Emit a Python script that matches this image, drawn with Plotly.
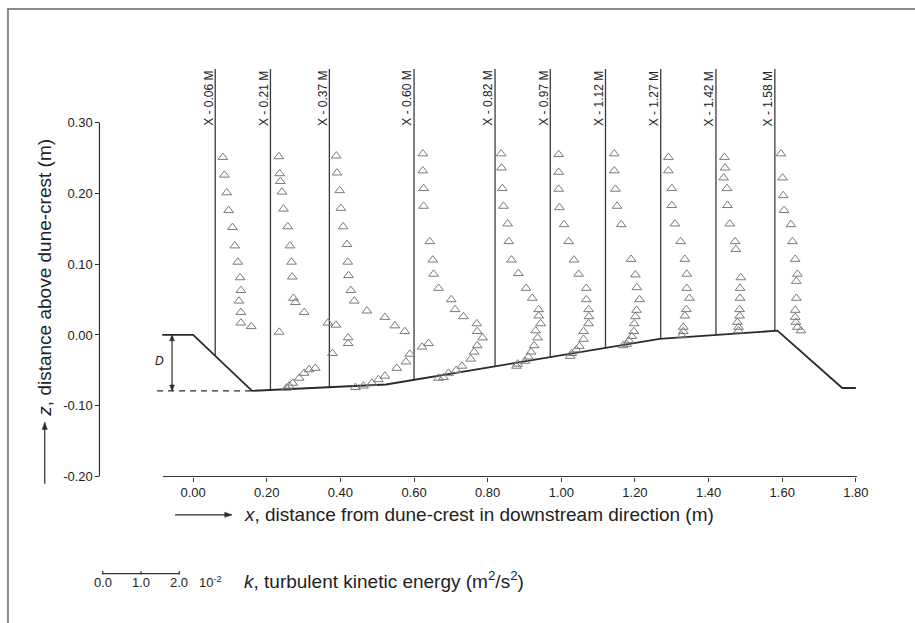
import numpy as np
import plotly.graph_objects as go

W, H = 915, 623
FONT = "Liberation Sans, Arial, sans-serif"
INK = "#222222"
LINE = "#2a2a2a"

# ---- dune bed profile (x, z in m) ----
BED_X = [-0.084, 0.0, 0.160, 0.524, 1.267, 1.587, 1.763, 1.80]
BED_Z = [0.0, 0.0, -0.079, -0.070, -0.0056, 0.006, -0.075, -0.075]
DUNE_HEIGHT = 0.079

# ---- measuring stations ----
STATIONS = [0.06, 0.21, 0.37, 0.60, 0.82, 0.97, 1.12, 1.27, 1.42, 1.58]
STATION_LABELS = ["X - 0.06 M", "X - 0.21 M", "X - 0.37 M", "X - 0.60 M", "X - 0.82 M",
                  "X - 0.97 M", "X - 1.12 M", "X - 1.27 M", "X - 1.42 M", "X - 1.58 M"]
STATION_TOP = 0.3756

# ---- turbulent kinetic energy profiles: k (10^-2 m^2/s^2) vs z (m) ----
K_006 = [0.20, 0.24, 0.30, 0.35, 0.45, 0.51, 0.59, 0.65, 0.67, 0.62, 0.67, 0.67, 0.94, 1.67]
Z_006 = [0.251, 0.226, 0.201, 0.176, 0.152, 0.126, 0.103, 0.081, 0.063, 0.048, 0.032, 0.017, 0.012, 0.004]

K_021 = [0.22, 0.24, 0.26, 0.30, 0.34, 0.45, 0.51, 0.55, 0.57, 0.60, 0.65, 0.88,
         1.50, 1.71, 2.03, 2.03, 1.62, 1.17, 1.01, 0.88, 0.75, 0.58, 0.49, 0.42]
Z_021 = [0.252, 0.228, 0.217, 0.202, 0.178, 0.153, 0.126, 0.103, 0.082, 0.052, 0.046, 0.032,
         0.017, 0.014, -0.004, -0.012, -0.026, -0.047, -0.049, -0.054, -0.061, -0.068, -0.072, -0.075]

K_037 = [0.18, 0.20, 0.27, 0.30, 0.36, 0.46, 0.48, 0.50, 0.56, 0.65, 0.98,
         1.45, 1.71, 1.97, 2.10, 2.00, 1.76, 1.45, 1.28, 1.11, 0.89, 0.68]
Z_037 = [0.253, 0.229, 0.204, 0.179, 0.153, 0.128, 0.103, 0.084, 0.063, 0.048, 0.034,
         0.025, 0.013, 0.005, -0.027, -0.038, -0.047, -0.058, -0.063, -0.068, -0.072, -0.074]

K_060 = [0.23, 0.23, 0.25, 0.25, 0.41, 0.49, 0.51, 0.64, 0.97, 1.07, 1.29, 1.64, 1.65, 1.79,
         1.65, 1.57, 1.48, 1.25, 1.10, 0.90, 0.77, 0.64, 0.21, 0.38]
Z_060 = [0.256, 0.232, 0.207, 0.182, 0.132, 0.106, 0.086, 0.066, 0.050, 0.036, 0.026, 0.016, 0.005, -0.004,
         -0.015, -0.024, -0.034, -0.044, -0.050, -0.054, -0.060, -0.061, -0.017, -0.012]

K_082 = [0.16, 0.17, 0.19, 0.22, 0.33, 0.36, 0.43, 0.61, 0.81, 0.97, 1.14, 1.14, 1.19,
         1.06, 1.11, 1.02, 0.94, 0.87, 0.78, 0.59, 0.56]
Z_082 = [0.256, 0.236, 0.207, 0.182, 0.157, 0.132, 0.106, 0.087, 0.066, 0.052, 0.036, 0.027, 0.016,
         0.006, -0.004, -0.015, -0.024, -0.031, -0.037, -0.041, -0.044]

K_097 = [0.22, 0.22, 0.22, 0.24, 0.36, 0.48, 0.62, 0.74, 0.94, 0.94, 1.00, 1.01, 1.00,
         0.87, 0.87, 0.76, 0.68, 0.56, 0.52]
Z_097 = [0.255, 0.230, 0.206, 0.180, 0.156, 0.132, 0.106, 0.086, 0.066, 0.050, 0.036, 0.026, 0.016,
         0.005, -0.006, -0.016, -0.021, -0.026, -0.030]

K_112 = [0.23, 0.23, 0.26, 0.30, 0.41, 0.67, 0.78, 0.82, 0.89, 0.81, 0.78, 0.75, 0.74,
         0.69, 0.61, 0.55, 0.46]
Z_112 = [0.256, 0.232, 0.206, 0.182, 0.156, 0.107, 0.085, 0.067, 0.050, 0.035, 0.026, 0.016, 0.005,
         -0.002, -0.008, -0.013, -0.015]

K_127 = [0.20, 0.20, 0.29, 0.29, 0.37, 0.52, 0.63, 0.68, 0.68, 0.75, 0.67, 0.63, 0.59, 0.59, 0.55]
Z_127 = [0.251, 0.232, 0.207, 0.183, 0.157, 0.132, 0.107, 0.086, 0.066, 0.052, 0.036, 0.027, 0.011, 0.005, -0.001]

K_142 = [0.22, 0.24, 0.20, 0.29, 0.30, 0.36, 0.50, 0.52, 0.65, 0.63, 0.63, 0.62, 0.62, 0.56, 0.59, 0.59]
Z_142 = [0.251, 0.236, 0.222, 0.207, 0.183, 0.157, 0.132, 0.121, 0.081, 0.066, 0.052, 0.036, 0.027, 0.018, 0.011, 0.006]

K_158 = [0.16, 0.20, 0.22, 0.24, 0.42, 0.46, 0.53, 0.59, 0.56, 0.56, 0.53, 0.53, 0.55, 0.59, 0.68]
Z_158 = [0.256, 0.222, 0.197, 0.176, 0.156, 0.132, 0.107, 0.086, 0.076, 0.052, 0.035, 0.025, 0.018, 0.011, 0.006]

PROFILES_K = [K_006, K_021, K_037, K_060, K_082, K_097, K_112, K_127, K_142, K_158]
PROFILES_Z = [Z_006, Z_021, Z_037, Z_060, Z_082, Z_097, Z_112, Z_127, Z_142, Z_158]

# horizontal plotting scale: metres of x per 10^-2 m^2/s^2 of k
K_TO_X = 0.104
SCALE_TICKS = [0.0, 1.0, 2.0]
SCALE_LABELS = ["0.0", "1.0", "2.0"]

X_TICKS = [0.0, 0.2, 0.4, 0.6, 0.8, 1.0, 1.2, 1.4, 1.6, 1.8]
X_TICKTEXT = ["0.00", "0.20", "0.40", "0.60", "0.80", "1.00", "1.20", "1.40", "1.60", "1.80"]
Z_TICKS = [-0.2, -0.1, 0.0, 0.1, 0.2, 0.3]
Z_TICKTEXT = ["-0.20", "-0.10", "0.00", "0.10", "0.20", "0.30"]

# ---- axes geometry (pixels) ----
X_RANGE = [-0.12, 1.82]
Z_RANGE = [-0.20, 0.39]
PX_X0, PX_PER_M = 194.2, 370.2          # pixel of x = 0, pixels per metre
PY_Z0, PY_PER_M = 339.3, 717.0          # pixel of z = 0, pixels per metre
YAXIS_PX = 100


def px(x):
    return PX_X0 + x * PX_PER_M


def py(z):
    return PY_Z0 - z * PY_PER_M


def paper_x(p):
    return p / W


def paper_y(p):
    return (H - p) / H


def arrow_shapes(x0, y0, x1, y1, head=7.0, half=2.6, width=1.2, both=False):
    """Line from (x0,y0) to (x1,y1) in pixels with a filled head at (x1,y1)."""
    out = [dict(type="line", xref="paper", yref="paper",
                x0=paper_x(x0), y0=paper_y(y0), x1=paper_x(x1), y1=paper_y(y1),
                line=dict(color=LINE, width=width))]
    ends = [((x0, y0), (x1, y1))]
    if both:
        ends.append(((x1, y1), (x0, y0)))
    for (ax, ay), (bx, by) in ends:
        dx, dy = bx - ax, by - ay
        n = (dx * dx + dy * dy) ** 0.5
        ux, uy = dx / n, dy / n
        bxp, byp = bx - ux * head, by - uy * head
        p1 = (bxp - uy * half, byp + ux * half)
        p2 = (bxp + uy * half, byp - ux * half)
        path = "M {:.5f},{:.5f} L {:.5f},{:.5f} L {:.5f},{:.5f} Z".format(
            paper_x(bx), paper_y(by), paper_x(p1[0]), paper_y(p1[1]), paper_x(p2[0]), paper_y(p2[1]))
        out.append(dict(type="path", xref="paper", yref="paper", path=path,
                        fillcolor=LINE, line=dict(color=LINE, width=0.5)))
    return out


x_domain = [paper_x(px(X_RANGE[0])), paper_x(px(X_RANGE[1]))]
y_domain = [paper_y(py(Z_RANGE[0])), paper_y(py(Z_RANGE[1]))]

fig = go.Figure()

# station verticals, from the bed up
sx, sz = [], []
for s in STATIONS:
    sx += [s, s, None]
    sz += [float(np.interp(s, BED_X, BED_Z)), STATION_TOP, None]
fig.add_trace(go.Scatter(x=sx, y=sz, mode="lines",
                         line=dict(color="#3a3a3a", width=1.3), hoverinfo="skip"))

# bed
fig.add_trace(go.Scatter(x=BED_X, y=BED_Z, mode="lines",
                         line=dict(color=LINE, width=1.8), hoverinfo="skip"))

# trough level (dashed)
fig.add_trace(go.Scatter(x=[-0.098, BED_X[2]], y=[-DUNE_HEIGHT, -DUNE_HEIGHT], mode="lines",
                         line=dict(color=LINE, width=1.3, dash="6px,5px"), hoverinfo="skip"))

# k profiles
for s, ks, zs in zip(STATIONS, PROFILES_K, PROFILES_Z):
    fig.add_trace(go.Scatter(
        x=[s + k * K_TO_X for k in ks], y=zs, mode="markers",
        marker=dict(symbol="triangle-up-open", size=8.5, color="#7a7a7a",
                    line=dict(width=1, color="#7a7a7a")),
        cliponaxis=False, hoverinfo="skip"))

annotations = []
shapes = []

# station labels
for s, lab in zip(STATIONS, STATION_LABELS):
    annotations.append(dict(x=s, y=STATION_TOP, xref="x", yref="y", text=lab, showarrow=False,
                            textangle=-90, xanchor="center", yanchor="top", xshift=-7,
                            font=dict(family=FONT, size=12, color=INK)))

# dune height arrow D
x_d = 173.0
shapes += arrow_shapes(x_d, py(-DUNE_HEIGHT), x_d, py(0.0), head=6, half=2.4, width=1.2, both=True)
annotations.append(dict(x=(160 - PX_X0) / PX_PER_M, y=-DUNE_HEIGHT / 2 + 0.003, xref="x", yref="y",
                        text="<i>D</i>", showarrow=False,
                        font=dict(family=FONT, size=12, color=INK)))

# axis titles with direction arrows
shapes += arrow_shapes(45, 490, 45, 428)
annotations.append(dict(x=paper_x(45), y=paper_y(281.5), xref="paper", yref="paper",
                        text="<i>z</i>, distance above dune-crest (m)", showarrow=False,
                        textangle=-90, xanchor="center", yanchor="middle",
                        font=dict(family=FONT, size=19, color=INK)))
shapes += arrow_shapes(176, 521.5, 233, 521.5)
annotations.append(dict(x=paper_x(243), y=paper_y(521.5), xref="paper", yref="paper",
                        text="<i>x</i>, distance from dune-crest in downstream direction (m)",
                        showarrow=False, xanchor="left", yanchor="middle",
                        font=dict(family=FONT, size=19, color=INK)))

# k scale bar
bar_px0, bar_py = 103.3, 581
unit_px = K_TO_X * PX_PER_M
shapes.append(dict(type="line", xref="paper", yref="paper",
                   x0=paper_x(bar_px0), x1=paper_x(bar_px0 + SCALE_TICKS[-1] * unit_px),
                   y0=paper_y(bar_py), y1=paper_y(bar_py), line=dict(color="#333", width=1.2)))
for t, lab in zip(SCALE_TICKS, SCALE_LABELS):
    xp = paper_x(bar_px0 + t * unit_px)
    shapes.append(dict(type="line", xref="paper", yref="paper", x0=xp, x1=xp,
                       y0=paper_y(bar_py - 2.5), y1=paper_y(bar_py + 1),
                       line=dict(color="#333", width=1.2)))
    annotations.append(dict(x=xp, y=paper_y(590), xref="paper", yref="paper", text=lab,
                            showarrow=False, xanchor="center", yanchor="middle",
                            font=dict(family=FONT, size=13, color=INK)))
annotations.append(dict(x=paper_x(198), y=paper_y(590), xref="paper", yref="paper",
                        text="10<sup>-2</sup>", showarrow=False, xanchor="left", yanchor="middle",
                        font=dict(family=FONT, size=13, color=INK)))
annotations.append(dict(x=paper_x(243), y=paper_y(588), xref="paper", yref="paper",
                        text="<i>k</i>, turbulent kinetic energy (m<sup>2</sup>/s<sup>2</sup>)",
                        showarrow=False, xanchor="left", yanchor="middle",
                        font=dict(family=FONT, size=19, color=INK)))

# axis lines
shapes.append(dict(type="line", xref="x", yref="paper", x0=-0.082, x1=1.803,
                   y0=y_domain[0], y1=y_domain[0], line=dict(color="#333", width=1.2)))
shapes.append(dict(type="line", xref="paper", yref="y", x0=paper_x(YAXIS_PX), x1=paper_x(YAXIS_PX),
                   y0=Z_RANGE[0], y1=0.30, line=dict(color="#333", width=1.2)))

# outer frame (top and left edges fall inside the page)
shapes.append(dict(type="rect", xref="paper", yref="paper", x0=paper_x(8), x1=paper_x(935),
                   y0=paper_y(640), y1=paper_y(9), line=dict(color="#8a8a8a", width=2)))

fig.update_layout(
    width=W, height=H, margin=dict(l=0, r=0, t=0, b=0),
    paper_bgcolor="white", plot_bgcolor="white", showlegend=False,
    xaxis=dict(domain=x_domain, range=X_RANGE, tickvals=X_TICKS, ticktext=X_TICKTEXT,
               ticks="outside", ticklen=4, tickcolor="#333", tickwidth=1.2, showline=False,
               showgrid=False, zeroline=False, anchor="y",
               tickfont=dict(family=FONT, size=13, color=INK)),
    yaxis=dict(domain=y_domain, range=Z_RANGE, tickvals=Z_TICKS, ticktext=Z_TICKTEXT,
               ticks="outside", ticklen=4, tickcolor="#333", tickwidth=1.2, showline=False,
               showgrid=False, zeroline=False, anchor="free", position=paper_x(YAXIS_PX),
               tickfont=dict(family=FONT, size=13, color=INK)),
    annotations=annotations, shapes=shapes,
)

fig.write_html("out.html")
